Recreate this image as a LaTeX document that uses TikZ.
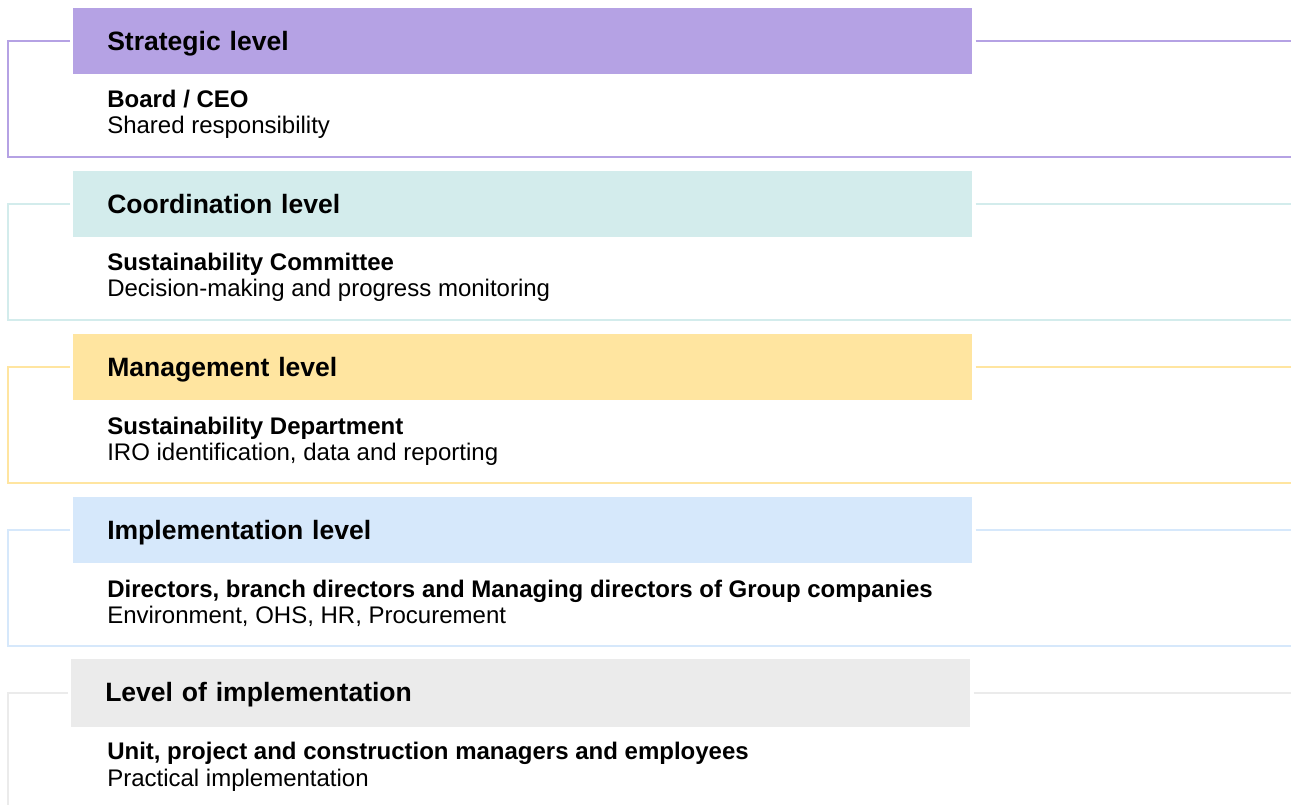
\documentclass[tikz,border=0pt]{standalone}
\usepackage{fontspec}
\setmainfont{Liberation Sans}

\definecolor{strategic}{HTML}{B5A2E4}
\definecolor{coordination}{HTML}{D3ECEC}
\definecolor{management}{HTML}{FFE5A0}
\definecolor{implementation}{HTML}{D6E8FB}
\definecolor{operational}{HTML}{EBEBEB}

\tikzset{
  levelbox/.style={fill=#1, anchor=west, inner sep=0pt, inner xsep=25.5pt,
    text width=623.25pt, align=left, minimum height=49.5pt,
    text height=14.2pt, text depth=0pt,
    font=\bfseries\fontsize{19.9}{24}\selectfont},
  frame/.style={draw=#1, line width=1.5pt, shorten <=2.25pt},
  unit/.style={anchor=base west, inner sep=0pt,
    font=\bfseries\fontsize{18}{21}\selectfont},
  task/.style={anchor=base west, inner sep=0pt,
    font=\fontsize{18}{21}\selectfont}
}

\begin{document}
\begin{tikzpicture}[x=0.75pt,y=-0.75pt]
  \clip (0,0) rectangle (1291,805);

  % strategic
  \node[levelbox=strategic] (h1) at (73,41) {Strategic level};
  \draw[frame=strategic] (h1.west) -- (8,41) -- (8,157) -- (1291,157);
  \draw[frame=strategic] (h1.east) -- (1291,41);
  \node[unit] (u1) at (107,108) {Board / CEO};
  \node[task] (t1) at (107,134) {Shared responsibility};

  % coordination
  \node[levelbox=coordination] (h2) at (73,204) {Coordination level};
  \draw[frame=coordination] (h2.west) -- (8,204) -- (8,320) -- (1291,320);
  \draw[frame=coordination] (h2.east) -- (1291,204);
  \node[unit] (u2) at (107,271) {Sustainability Committee};
  \node[task] (t2) at (107,297) {Decision-making and progress monitoring};

  % management
  \node[levelbox=management] (h3) at (73,367) {Management level};
  \draw[frame=management] (h3.west) -- (8,367) -- (8,483) -- (1291,483);
  \draw[frame=management] (h3.east) -- (1291,367);
  \node[unit] (u3) at (107,434) {Sustainability Department};
  \node[task] (t3) at (107,460) {IRO identification, data and reporting};

  % implementation
  \node[levelbox=implementation] (h4) at (73,530) {Implementation level};
  \draw[frame=implementation] (h4.west) -- (8,530) -- (8,646) -- (1291,646);
  \draw[frame=implementation] (h4.east) -- (1291,530);
  \node[unit] (u4) at (107,597) {Directors, branch directors and Managing directors of Group companies};
  \node[task] (t4) at (107,623) {Environment, OHS, HR, Procurement};

  % operational, runs off the bottom
  \node[levelbox=operational, minimum height=51pt] (h5) at (71,692.5) {Level of implementation};
  \draw[frame=operational] (h5.west) -- (8,692.5) -- (8,812) -- (1291,812);
  \draw[frame=operational] (h5.east) -- (1291,692.5);
  \node[unit] (u5) at (107,759) {Unit, project and construction managers and employees};
  \node[task] (t5) at (107,786) {Practical implementation};
\end{tikzpicture}
\end{document}
